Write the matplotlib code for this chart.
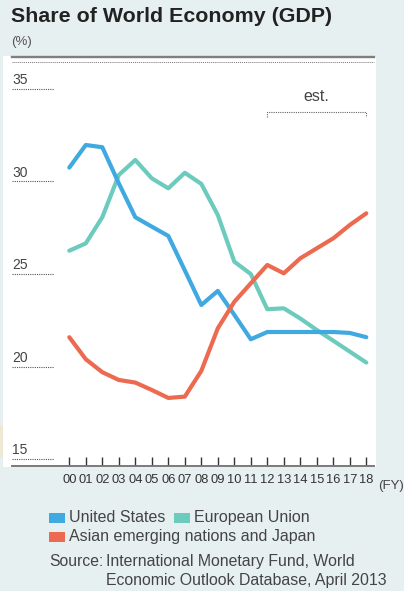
import matplotlib
matplotlib.use('Agg')
import matplotlib.pyplot as plt
from matplotlib.patches import Rectangle
from matplotlib.lines import Line2D

# data (share of world GDP, %)
years = ['00', '01', '02', '03', '04', '05', '06', '07', '08', '09',
         '10', '11', '12', '13', '14', '15', '16', '17', '18']
us = [30.75, 31.97, 31.85, 29.9, 28.07, 27.56, 27.06, 25.2, 23.33, 24.09,
      22.8, 21.48, 21.87, 21.87, 21.87, 21.87, 21.87, 21.82, 21.59]
eu = [26.26, 26.66, 28.07, 30.35, 31.16, 30.17, 29.63, 30.47, 29.87, 28.19,
      25.67, 25.0, 23.1, 23.15, 22.6, 21.98, 21.4, 20.81, 20.22]
asia = [21.59, 20.4, 19.7, 19.28, 19.14, 18.74, 18.31, 18.38, 19.77, 22.07,
        23.5, 24.5, 25.49, 25.04, 25.85, 26.39, 26.93, 27.65, 28.28]
yticks = [15, 20, 25, 30, 35]

BG = '#e7f0f1'
BLUE = '#41a9e1'
TEAL = '#6dcbbe'
RED = '#ec6a4f'
TXT = '#444444'
FONT = 'Liberation Sans'

W, H = 404, 591
fig = plt.figure(figsize=(W / 100, H / 100), dpi=100)
fig.patch.set_facecolor(BG)


def fx(x):
    return x / W


def fy(y):
    return 1 - y / H


# white panel + little cream strip at left edge
fig.add_artist(Rectangle((fx(2.5), fy(467)), fx(376) - fx(2.5), fy(56) - fy(467),
                         transform=fig.transFigure, facecolor='white', edgecolor='none', zorder=0))
fig.add_artist(Rectangle((0, fy(458)), fx(2.5), fy(425) - fy(458),
                         transform=fig.transFigure, facecolor='#efe8d4', edgecolor='none', zorder=0))

ax = fig.add_axes([fx(2.5), fy(465.7), fx(376) - fx(2.5), fy(56) - fy(465.7)])
ax.patch.set_alpha(0)

x = list(range(len(years)))
ax.plot(x, us, color=BLUE, lw=3.0, solid_capstyle='round', solid_joinstyle='round', zorder=3)
ax.plot(x, eu, color=TEAL, lw=3.0, solid_capstyle='round', solid_joinstyle='round', zorder=2)
ax.plot(x, asia, color=RED, lw=3.0, solid_capstyle='round', solid_joinstyle='round', zorder=4)

x0 = (2.5 - 69.3) / 16.5
x1 = (376 - 69.3) / 16.5
ax.set_xlim(x0, x1)
ax.set_ylim(14.65, 15 + (459.3 - 56) / 18.52)

for s in ['top', 'left', 'right']:
    ax.spines[s].set_visible(False)
ax.spines['bottom'].set_color('#7a7a7a')
ax.spines['bottom'].set_linewidth(1.4)
ax.spines['bottom'].set_bounds((12 - 69.3) / 16.5, (374 - 69.3) / 16.5)

ax.set_yticks([])
ax.set_xticks(x)
ax.set_xticklabels(years, family=FONT, fontsize=9.3, color='#333333')
ax.tick_params(axis='x', direction='in', length=6.5, width=1, color='#333333', pad=6)

# y labels with short dotted rules
gx0 = (12 - 69.3) / 16.5
gx1 = (54 - 69.3) / 16.5
for v in yticks:
    ax.plot([gx0, gx1], [v, v], color='#555555', lw=0.8, ls=(0, (1, 1)), zorder=1)
    ax.text(gx0, v + 0.1, str(v), fontsize=10, color=TXT, ha='left', va='bottom', family=FONT)

ax.text((378 - 69.3) / 16.5, -0.034, '(FY)', transform=ax.get_xaxis_transform(), fontsize=9.5,
        color=TXT, ha='left', va='top', family=FONT, clip_on=False)

# estimate bracket
by = 15 + (459.3 - 111.7) / 18.52
bl = 15 + (459.3 - 117.5) / 18.52
ax.plot([12, 12, 18, 18], [bl, by, by, bl], color='#666666', lw=0.8, ls=(0, (1, 1)))
ax.text(15, by + 0.4, 'est.', fontsize=11.5, color=TXT, ha='center', va='bottom', family=FONT)

# header rules
fig.add_artist(Line2D([fx(12), fx(374)], [fy(56.5), fy(56.5)], transform=fig.transFigure,
                      color='#7f7f7f', lw=1.7))
fig.add_artist(Line2D([fx(12), fx(374)], [fy(62), fy(62)], transform=fig.transFigure,
                      color='#777777', lw=0.7, ls=(0, (1, 1))))

fig.text(fx(11), fy(16), 'Share of World Economy (GDP)', fontsize=15.4, fontweight='bold',
         color='#222222', ha='left', va='center', family=FONT)
fig.text(fx(11), fy(42), '(%)', fontsize=9.5, color='#555555', ha='left', va='center', family=FONT)

# legend
legend_items = [('United States', BLUE, 49, 517.5), ('European Union', TEAL, 174, 517.5),
                ('Asian emerging nations and Japan', RED, 49, 536.5)]
for label, col, lx, ly in legend_items:
    fig.add_artist(Rectangle((fx(lx), fy(ly + 5)), fx(16), fy(ly - 5) - fy(ly + 5),
                             transform=fig.transFigure, facecolor=col, edgecolor='none'))
    fig.text(fx(lx + 20), fy(ly), label, fontsize=11.5, color=TXT, ha='left', va='center',
             family=FONT)

fig.text(fx(49), fy(561.5), 'Source:', fontsize=11.3, color=TXT, ha='left', va='center', family=FONT)
fig.text(fx(106), fy(561.5), 'International Monetary Fund, World', fontsize=11.4, color=TXT,
         ha='left', va='center', family=FONT)
fig.text(fx(106), fy(580.5), 'Economic Outlook Database, April 2013', fontsize=11.4, color=TXT,
         ha='left', va='center', family=FONT)

fig.savefig('out.png', dpi=100, facecolor=BG)
